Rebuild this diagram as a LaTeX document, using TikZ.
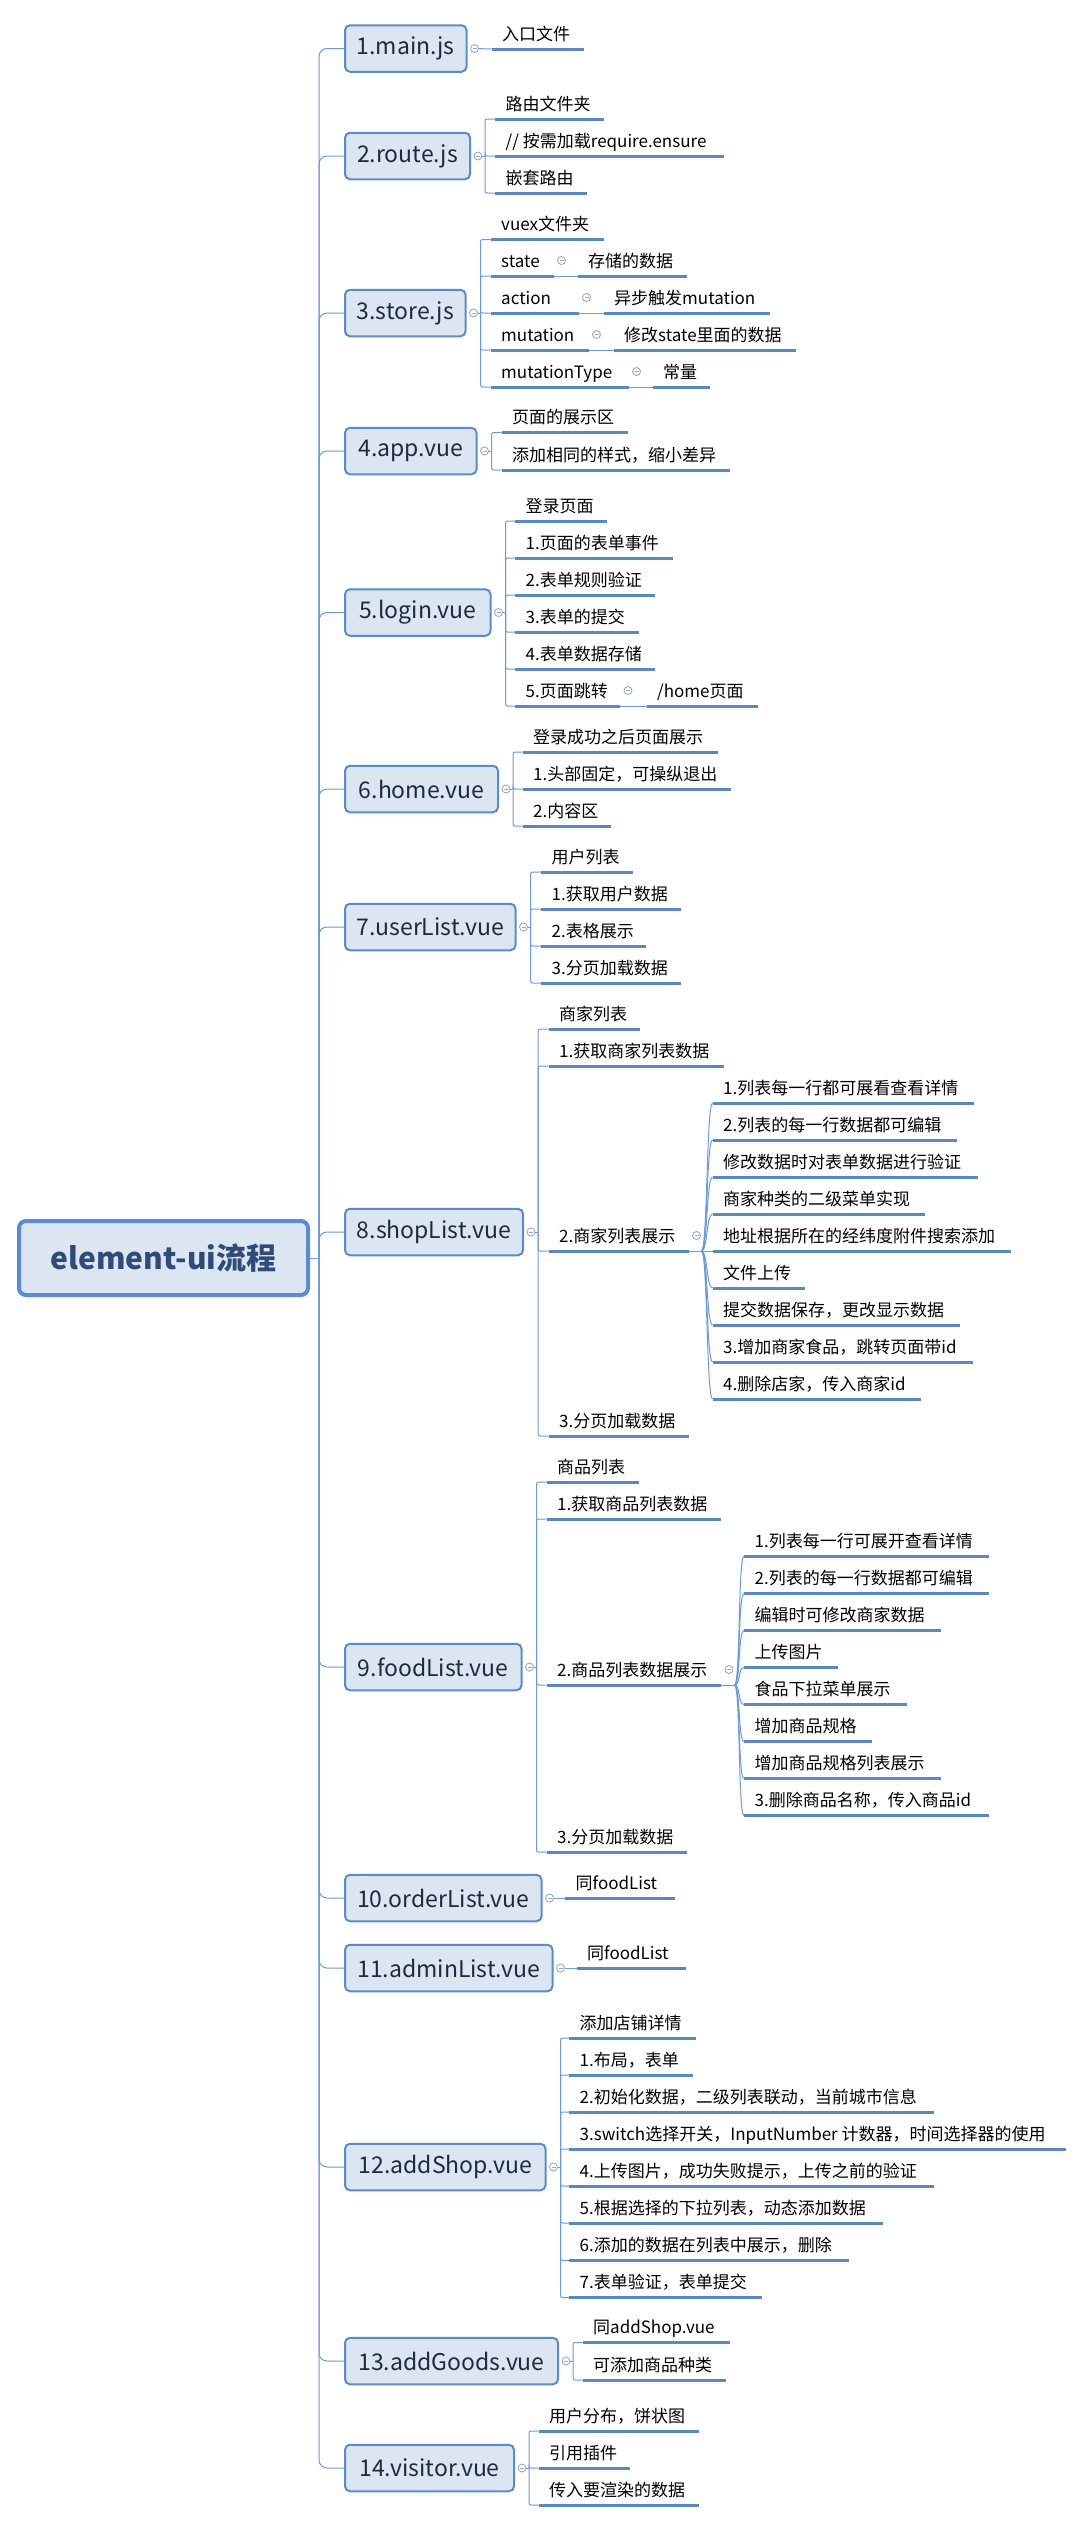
\documentclass[tikz,border=0pt]{standalone}
\usepackage{fontspec}
\setmainfont{Noto Sans CJK SC}
\usetikzlibrary{calc}
\definecolor{boxfill}{HTML}{DCE6F2}
\definecolor{boxdraw}{HTML}{5B8BC9}
\definecolor{rootdraw}{HTML}{5A8BD3}
\definecolor{ulcol}{HTML}{5A88C3}
\definecolor{conncol}{HTML}{6C9BD8}
\definecolor{circcol}{HTML}{99A9C2}
\definecolor{boxtext}{HTML}{1E2B3C}
\definecolor{roottext}{HTML}{2F4C78}
\tikzset{
  conn/.style={draw=conncol, line width=1pt},
  ubar/.style={draw=ulcol, line width=3pt},
  subtext/.style={anchor=base west, inner sep=0pt, font=\fontsize{17}{20}\selectfont, text=black},
  branch/.style={anchor=west, draw=boxdraw, line width=2pt, fill=boxfill, rounded corners=5pt, minimum height=46.5pt, inner sep=0pt, font=\fontsize{23}{27}\selectfont, text=boxtext},
  rootbox/.style={draw=rootdraw, line width=4pt, fill=boxfill, rounded corners=7pt, minimum width=289pt, minimum height=74pt, inner sep=0pt, font=\bfseries\fontsize{30}{36}\selectfont, text=roottext},
  collapse/.style={circle, draw=circcol, fill=white, line width=0.9pt, minimum size=8pt, inner sep=0pt, path picture={\draw[circcol, line width=0.8pt] ([xshift=-2pt]path picture bounding box.center) -- ([xshift=2pt]path picture bounding box.center);}},
}
\newcommand{\mmBox}[4]{%
  \node[branch, minimum width={#2-346}] (#1) at (344,#3) {#4};
  \node[collapse] (#1c) at ({#2+7},#3) {};
  \coordinate (#1j) at ({#2+14},#3);
  \draw[conn, rounded corners=8pt] (trunk) |- (#1.west);}
\newcommand{\mmSub}[5]{%
  \coordinate (#1w) at (#2,#4);
  \coordinate (#1e) at (#3,#4);
  \draw[ubar] (#1w) -- (#1e);
  \node[subtext] (#1) at ({#2+10.5},{#4-9}) {#5};}
\newcommand{\mmLink}[2]{\draw[conn, rounded corners=2pt] (#1) |- (#2w);}
\newcommand{\mmInline}[2]{\draw[conn] (#1e) -- (#2w); \node[collapse] (#1c) at ($(#1e)+(8,-15.5)$) {};}
\newcommand{\mmFan}[2]{\draw[conn] (#1) .. controls +(6,0) and +(-6,0) .. (#2w);}
\begin{document}
\begin{tikzpicture}[x=1pt,y=-1pt]
\useasboundingbox (0,0) rectangle (1075,2522);
\fill[white] (0,0) rectangle (1075,2522);
\node[rootbox] (root) at (163.5,1258) {element-ui流程};
\coordinate (trunk) at (319,1258);
\draw[conn] (root.east) -- (trunk);

% 1
\mmBox{b1}{467.5}{48.5}{1.main.js}
\mmSub{s1}{491.5}{584}{49}{入口文件}
\draw[conn] (b1c) -- (s1w);

% 2
\mmBox{b2}{471}{156}{2.route.js}
\draw[conn] (b2c) -- (b2j);
\mmSub{s2a}{495}{603.5}{119}{路由文件夹}
\mmSub{s2b}{495}{723.5}{156}{// 按需加载require.ensure}
\mmSub{s2c}{495}{586.5}{193}{嵌套路由}
\mmLink{b2j}{s2a}\mmLink{b2j}{s2b}\mmLink{b2j}{s2c}

% 3
\mmBox{b3}{466.5}{313}{3.store.js}
\draw[conn] (b3c) -- (b3j);
\mmSub{s3a}{490.5}{603.5}{239.5}{vuex文件夹}
\mmSub{s3b}{490.5}{553.5}{276}{state}
\mmSub{s3c}{490.5}{578.5}{313}{action}
\mmSub{s3d}{490.5}{588.5}{350}{mutation}
\mmSub{s3e}{490.5}{628.5}{387}{mutationType}
\mmLink{b3j}{s3a}\mmLink{b3j}{s3b}\mmLink{b3j}{s3c}\mmLink{b3j}{s3d}\mmLink{b3j}{s3e}
\mmSub{s3f}{577.5}{686.5}{276}{存储的数据}
\mmSub{s3g}{603.5}{770}{313}{异步触发mutation}
\mmSub{s3h}{613.5}{796}{350}{修改state里面的数据}
\mmSub{s3i}{652.5}{710}{387}{常量}
\mmInline{s3b}{s3f}\mmInline{s3c}{s3g}\mmInline{s3d}{s3h}\mmInline{s3e}{s3i}

% 4
\mmBox{b4}{477.5}{451}{4.app.vue}
\draw[conn] (b4c) -- (b4j);
\mmSub{s4a}{501.5}{627.5}{432.5}{页面的展示区}
\mmSub{s4b}{501.5}{730}{470}{添加相同的样式，缩小差异}
\mmLink{b4j}{s4a}\mmLink{b4j}{s4b}

% 5
\mmBox{b5}{491.5}{612.5}{5.login.vue}
\draw[conn] (b5c) -- (b5j);
\mmSub{s5a}{515}{606.5}{521}{登录页面}
\mmSub{s5b}{515}{672.5}{558}{1.页面的表单事件}
\mmSub{s5c}{515}{655}{595}{2.表单规则验证}
\mmSub{s5d}{515}{638.5}{632}{3.表单的提交}
\mmSub{s5e}{515}{655}{669}{4.表单数据存储}
\mmSub{s5f}{515}{620}{706}{5.页面跳转}
\mmLink{b5j}{s5a}\mmLink{b5j}{s5b}\mmLink{b5j}{s5c}\mmLink{b5j}{s5d}\mmLink{b5j}{s5e}\mmLink{b5j}{s5f}
\mmSub{s5g}{646.5}{757.5}{706}{/home页面}
\mmInline{s5f}{s5g}

% 6
\mmBox{b6}{499}{789}{6.home.vue}
\draw[conn] (b6c) -- (b6j);
\mmSub{s6a}{522.5}{717.5}{752}{登录成功之后页面展示}
\mmSub{s6b}{522.5}{731}{789}{1.头部固定，可操纵退出}
\mmSub{s6c}{522.5}{611}{826}{2.内容区}
\mmLink{b6j}{s6a}\mmLink{b6j}{s6b}\mmLink{b6j}{s6c}

% 7
\mmBox{b7}{516.5}{927}{7.userList.vue}
\draw[conn] (b7c) -- (b7j);
\mmSub{s7a}{541}{632.5}{872}{用户列表}
\mmSub{s7b}{541}{681}{909}{1.获取用户数据}
\mmSub{s7c}{541}{646}{946}{2.表格展示}
\mmSub{s7d}{541}{681}{983}{3.分页加载数据}
\mmLink{b7j}{s7a}\mmLink{b7j}{s7b}\mmLink{b7j}{s7c}\mmLink{b7j}{s7d}

% 8
\mmBox{b8}{524}{1232}{8.shopList.vue}
\draw[conn] (b8c) -- (b8j);
\mmSub{s8a}{548.5}{640}{1029}{商家列表}
\mmSub{s8b}{548.5}{723.5}{1066}{1.获取商家列表数据}
\mmSub{s8c}{548.5}{688.5}{1251}{2.商家列表展示}
\mmSub{s8d}{548.5}{688.5}{1436}{3.分页加载数据}
\mmLink{b8j}{s8a}\mmLink{b8j}{s8b}\mmLink{b8j}{s8c}\mmLink{b8j}{s8d}
\coordinate (f8) at (701.5,1251);
\draw[conn] (s8ce) -- (f8);
\node[collapse] (s8cc) at ($(s8ce)+(8,-15.5)$) {};
\mmSub{t8a}{712.5}{974}{1103}{1.列表每一行都可展看查看详情}
\mmSub{t8b}{712.5}{956.5}{1140}{2.列表的每一行数据都可编辑}
\mmSub{t8c}{712.5}{977.5}{1177}{修改数据时对表单数据进行验证}
\mmSub{t8d}{712.5}{925}{1214}{商家种类的二级菜单实现}
\mmSub{t8e}{712.5}{1011}{1251}{地址根据所在的经纬度附件搜索添加}
\mmSub{t8f}{712.5}{805}{1288}{文件上传}
\mmSub{t8g}{712.5}{960}{1325}{提交数据保存，更改显示数据}
\mmSub{t8h}{712.5}{972.5}{1362}{3.增加商家食品，跳转页面带id}
\mmSub{t8i}{712.5}{921}{1399}{4.删除店家，传入商家id}
\mmFan{f8}{t8a}\mmFan{f8}{t8b}\mmFan{f8}{t8c}\mmFan{f8}{t8d}\mmFan{f8}{t8e}\mmFan{f8}{t8f}\mmFan{f8}{t8g}\mmFan{f8}{t8h}\mmFan{f8}{t8i}

% 9
\mmBox{b9}{522.5}{1667}{9.foodList.vue}
\draw[conn] (b9c) -- (b9j);
\mmSub{s9a}{546.5}{638.5}{1482}{商品列表}
\mmSub{s9b}{546.5}{721}{1519}{1.获取商品列表数据}
\mmSub{s9c}{546.5}{721}{1685}{2.商品列表数据展示}
\mmSub{s9d}{546.5}{686.5}{1852}{3.分页加载数据}
\mmLink{b9j}{s9a}\mmLink{b9j}{s9b}\mmLink{b9j}{s9c}\mmLink{b9j}{s9d}
\coordinate (f9) at (734.5,1685);
\draw[conn] (s9ce) -- (f9);
\node[collapse] (s9cc) at ($(s9ce)+(8,-15.5)$) {};
\mmSub{t9a}{744}{989}{1556.5}{1.列表每一行可展开查看详情}
\mmSub{t9b}{744}{989}{1593.5}{2.列表的每一行数据都可编辑}
\mmSub{t9c}{744}{941}{1630.5}{编辑时可修改商家数据}
\mmSub{t9d}{744}{837.5}{1667.5}{上传图片}
\mmSub{t9e}{744}{906.5}{1704.5}{食品下拉菜单展示}
\mmSub{t9f}{744}{871.5}{1741.5}{增加商品规格}
\mmSub{t9g}{744}{941}{1778.5}{增加商品规格列表展示}
\mmSub{t9h}{744}{989}{1815.5}{3.删除商品名称，传入商品id}
\mmFan{f9}{t9a}\mmFan{f9}{t9b}\mmFan{f9}{t9c}\mmFan{f9}{t9d}\mmFan{f9}{t9e}\mmFan{f9}{t9f}\mmFan{f9}{t9g}\mmFan{f9}{t9h}

% 10
\mmBox{b10}{542.5}{1898}{10.orderList.vue}
\mmSub{s10}{565}{675}{1898}{同foodList}
\draw[conn] (b10c) -- (s10w);

% 11
\mmBox{b11}{553.5}{1968}{11.adminList.vue}
\mmSub{s11}{576.5}{686}{1968}{同foodList}
\draw[conn] (b11c) -- (s11w);

% 12
\mmBox{b12}{546.5}{2167}{12.addShop.vue}
\draw[conn] (b12c) -- (b12j);
\mmSub{s12a}{569}{696}{2038}{添加店铺详情}
\mmSub{s12b}{569}{692.5}{2075}{1.布局，表单}
\mmSub{s12c}{569}{934}{2112}{2.初始化数据，二级列表联动，当前城市信息}
\mmSub{s12d}{569}{1066}{2149}{3.switch选择开关，InputNumber 计数器，时间选择器的使用}
\mmSub{s12e}{569}{934}{2186}{4.上传图片，成功失败提示，上传之前的验证}
\mmSub{s12f}{569}{882.5}{2223}{5.根据选择的下拉列表，动态添加数据}
\mmSub{s12g}{569}{848.5}{2260.5}{6.添加的数据在列表中展示，删除}
\mmSub{s12h}{569}{761.5}{2297.5}{7.表单验证，表单提交}
\mmLink{b12j}{s12a}\mmLink{b12j}{s12b}\mmLink{b12j}{s12c}\mmLink{b12j}{s12d}\mmLink{b12j}{s12e}\mmLink{b12j}{s12f}\mmLink{b12j}{s12g}\mmLink{b12j}{s12h}

% 13
\mmBox{b13}{559}{2361}{13.addGoods.vue}
\draw[conn] (b13c) -- (b13j);
\mmSub{s13a}{582.5}{730}{2342.5}{同addShop.vue}
\mmSub{s13b}{582.5}{726}{2380}{可添加商品种类}
\mmLink{b13j}{s13a}\mmLink{b13j}{s13b}

% 14
\mmBox{b14}{515}{2468}{14.visitor.vue}
\draw[conn] (b14c) -- (b14j);
\mmSub{s14a}{538.5}{698.5}{2431}{用户分布，饼状图}
\mmSub{s14b}{538.5}{630}{2468}{引用插件}
\mmSub{s14c}{538.5}{698.5}{2505}{传入要渲染的数据}
\mmLink{b14j}{s14a}\mmLink{b14j}{s14b}\mmLink{b14j}{s14c}
\end{tikzpicture}
\end{document}
